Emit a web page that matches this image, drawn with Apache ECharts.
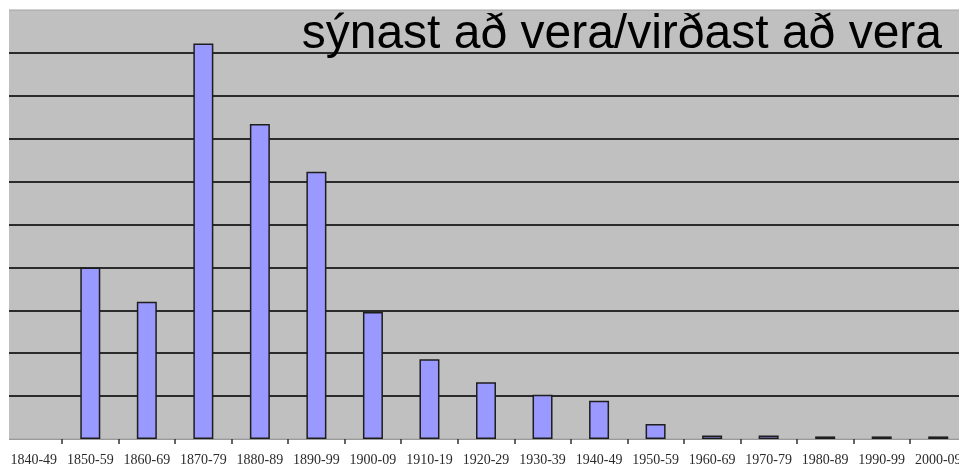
<!DOCTYPE html>
<html>
<head>
<meta charset="utf-8">
<script src="https://cdn.jsdelivr.net/npm/echarts@6/dist/echarts.min.js"></script>
<style>
html, body { margin: 0; padding: 0; overflow: hidden; background: #fff; width: 959px; height: 469px; }
#chart { width: 967px; height: 469px; }
</style>
</head>
<body>
<div id="chart"></div>
<script>
const titleText = 'sýnast að vera/virðast að vera';
const categories = ['1840-49','1850-59','1860-69','1870-79','1880-89','1890-99','1900-09','1910-19','1920-29','1930-39','1940-49','1950-59','1960-69','1970-79','1980-89','1990-99','2000-09'];
const values = [0, 4.0, 3.2, 9.22, 7.34, 6.23, 2.96, 1.86, 1.32, 1.03, 0.89, 0.35, 0.08, 0.08, 0.06, 0.06, 0.06];

const chart = echarts.init(document.getElementById('chart'), null, { renderer: 'canvas' });
chart.setOption({
  animation: false,
  backgroundColor: '#ffffff',
  title: {
    text: titleText,
    right: 25,
    top: 11,
    padding: 0,
    textStyle: { fontFamily: 'Liberation Sans, Arial, sans-serif', fontSize: 48, fontWeight: 'normal', color: '#000' }
  },
  grid: {
    left: 5.5, right: 0.5, top: 10, bottom: 30,
    show: true, backgroundColor: '#c0c0c0', borderColor: '#a4a4a4', borderWidth: 1
  },
  xAxis: {
    type: 'category',
    data: categories,
    boundaryGap: true,
    axisLine: { show: true, lineStyle: { color: '#9a9a9a', width: 1 } },
    axisTick: { show: true, length: 5, lineStyle: { color: '#333', width: 1.5 } },
    axisLabel: { interval: 0, margin: 14, fontFamily: 'Liberation Serif, Times New Roman, serif', fontSize: 14, color: '#2a2a2a' }
  },
  yAxis: {
    type: 'value',
    min: 0, max: 10, interval: 1,
    axisLine: { show: false },
    axisTick: { show: false },
    axisLabel: { show: false },
    splitLine: { show: true, showMinLine: false, showMaxLine: false, lineStyle: { color: '#2b2b2b', width: 2 } }
  },
  series: [{
    type: 'bar',
    data: values.map(v => (v === 0 ? null : v)),
    barWidth: 20,
    itemStyle: { color: '#9999ff', borderColor: '#1e1e1e', borderWidth: 1.5 }
  }],
  graphic: [{
    type: 'rect',
    left: 0, top: 0, z: 100,
    shape: { x: 0, y: 0, width: 9, height: 450 },
    style: { fill: '#ffffff' }
  }]
});
</script>
</body>
</html>
